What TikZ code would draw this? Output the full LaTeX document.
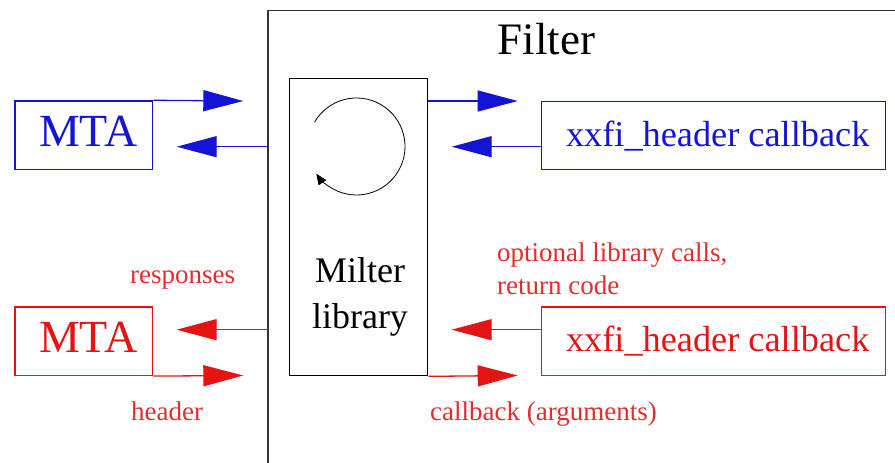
\documentclass[tikz,border=0pt]{standalone}
\usepackage{fontspec}
\setmainfont{Liberation Serif}
\usetikzlibrary{arrows.meta}

\definecolor{flowblue}{RGB}{20,20,215}
\definecolor{flowred}{RGB}{228,20,20}
\definecolor{notered}{RGB}{225,45,45}
\definecolor{framegray}{RGB}{50,50,50}

\begin{document}
\begin{tikzpicture}[x=1pt,y=1pt,
  bluebox/.style={draw=flowblue, text=flowblue, line width=1.3pt, inner sep=0pt,
    text depth=0pt, minimum height=68.5pt},
  redbox/.style={draw=flowred, text=flowred, line width=1.3pt, inner sep=0pt,
    text depth=0pt, minimum height=68.5pt},
  mtabox/.style={minimum width=137.7pt, text height=23.5pt,
    font=\fontsize{46}{50}\selectfont},
  cbbox/.style={minimum width=344pt, text height=21.6pt,
    font=\fontsize{36.3}{42}\selectfont},
  flow/.style={line width=1.3pt, -{Triangle[length=40pt,width=21pt]}},
  note/.style={text=notered, font=\fontsize{27}{33}\selectfont, inner sep=0pt,
    anchor=base west, align=left}
]
\useasboundingbox (0,0) rectangle (895,463);

% Filter process: only its top and left edges fall inside the picture
\draw[framegray, line width=1.6pt] (268,0) |- (895,452.5);
\node[anchor=base, inner sep=0pt, font=\fontsize{45}{50}\selectfont] (filterlabel)
  at (546.5,408) {Filter};

% Milter library with its event loop
\node[draw=black, line width=1.3pt, inner sep=0pt, minimum width=138.2pt,
  minimum height=297.4pt] (milter) at (358.6,236) {};
\node[anchor=north, inner sep=0pt, align=center,
  font=\fontsize{36}{46}\selectfont] (milterlabel) at (360,205.6) {Milter\\library};
\coordinate (loopc) at (356.5,316.5);
\draw[black, line width=0.8pt, -{Triangle[length=11pt,width=9pt]}]
  ([shift={(150:48.5)}]loopc) arc[start angle=150, end angle=-146, radius=48.5];

% Upper (blue) exchange
\node[bluebox, mtabox] (mtaA) at (83.8,327.8) {\hspace*{9pt}MTA};
\node[bluebox, cbbox] (cbA) at (713.7,327.5) {\hspace*{8pt}xxfi\_header callback};

\coordinate (tipA1) at (243.3,362);
\coordinate (srcA2) at (268,316.3);
\coordinate (tipA2) at (176.7,316.3);
\coordinate (tipA3) at (517.7,362);
\coordinate (tipA4) at (451.7,316.3);

\draw[flow, flowblue] (mtaA.north east) -- (tipA1);
\draw[flow, flowblue] (srcA2) -- (tipA2);
\draw[flow, flowblue] (milter.east |- tipA3) -- (tipA3);
\draw[flow, flowblue] (cbA.west |- tipA4) -- (tipA4);

% Lower (red) exchange
\node[redbox, mtabox] (mtaB) at (83.8,121.8) {\hspace*{9pt}MTA};
\node[redbox, cbbox] (cbB) at (713.7,121.8) {\hspace*{8pt}xxfi\_header callback};

\coordinate (srcB1) at (268,133.3);
\coordinate (tipB1) at (176.7,133.3);
\coordinate (tipB2) at (243.3,87.5);
\coordinate (tipB3) at (451.7,133.3);
\coordinate (tipB4) at (517.7,87.5);

\draw[flow, flowred] (srcB1) -- (tipB1);
\draw[flow, flowred] (mtaB.south east) -- (tipB2);
\draw[flow, flowred] (cbB.west |- tipB3) -- (tipB3);
\draw[flow, flowred] (milter.south east) -- (tipB4);

\node[note] (responses) at (130,179.7) {responses};
\node[note] (header) at (131,42.3) {header};
% the base anchor of a two-line note sits on its last line
\node[note] (optcalls) at (497,168) {optional library calls,\\return code};
\node[note] (cbargs) at (430,42.3) {callback (arguments)};
\end{tikzpicture}
\end{document}
